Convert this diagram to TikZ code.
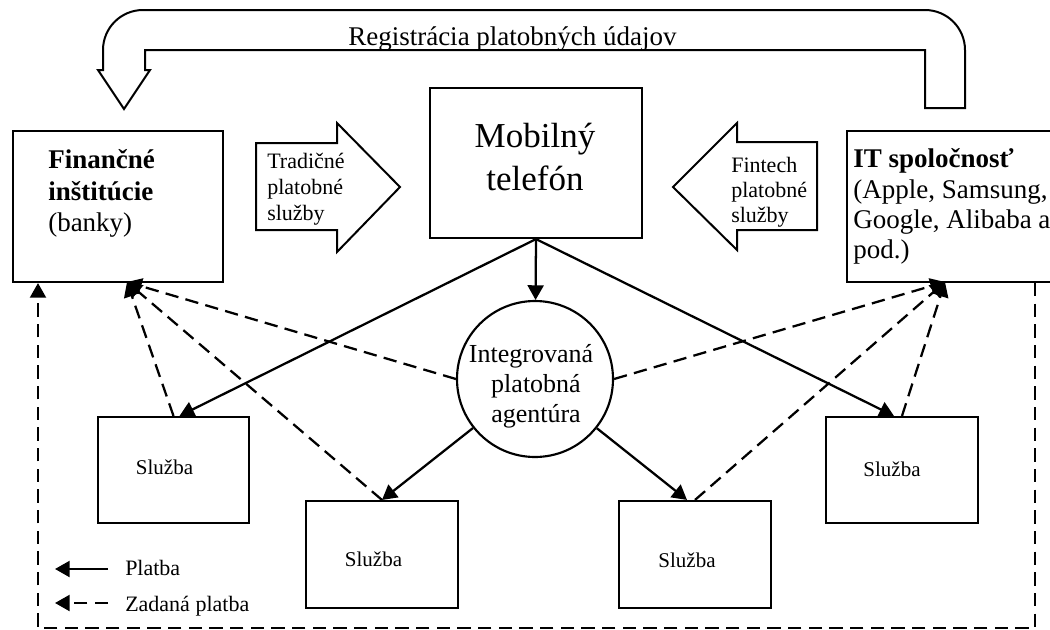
\documentclass[tikz,border=0pt]{standalone}
\usepackage{fontspec}
\setmainfont{Liberation Serif}
\usetikzlibrary{arrows.meta,calc}
\begin{document}
\begin{tikzpicture}[x=0.75pt,y=-0.75pt,
  box/.style={draw,line width=1.6pt,inner sep=0pt},
  pay/.style={line width=1.7pt,-{Triangle[length=11pt,width=12pt]}},
  dpay/.style={pay,dash pattern=on 10pt off 5.5pt},
  shapeline/.style={draw,line width=1.5pt,line join=miter},
  txt/.style={inner sep=0pt,anchor=base west},
  ctxt/.style={inner sep=0pt,anchor=base},
  big/.style={font=\fontsize{20.25}{24}\selectfont},
  mid/.style={font=\fontsize{19.5}{23}\selectfont},
  small/.style={font=\fontsize{16.5}{20}\selectfont},
  svc/.style={font=\fontsize{15.75}{19}\selectfont}]
\useasboundingbox (0,0) rectangle (1050,629);

% main boxes
\node[box,minimum width=157.5pt,minimum height=113.25pt] (fin) at (118,206.5) {};
\node[box,minimum width=159pt,minimum height=112.5pt] (mob) at (536,163) {};
\node[box,minimum width=159.75pt,minimum height=113.25pt] (it) at (953.5,206.5) {};
\node[box,circle,minimum size=117pt] (agent) at (535,379) {};

% service boxes
\node[box,minimum width=113.25pt,minimum height=79.5pt] (s1) at (173.5,470) {};
\node[box,minimum width=114pt,minimum height=80.25pt] (s2) at (382,554.5) {};
\node[box,minimum width=114pt,minimum height=80.25pt] (s3) at (695,554.5) {};
\node[box,minimum width=114pt,minimum height=79.5pt] (s4) at (902,470) {};

% texts of the boxes
\node[txt,big] (fin1) at (48,168) {\bfseries Finančné};
\node[txt,big] (fin2) at (48,200) {\bfseries inštitúcie};
\node[txt,big] (fin3) at (48,231) {(banky)};

\node[ctxt,font=\fontsize{26.25}{30}\selectfont] (mob1) at (535,147) {Mobilný};
\node[ctxt,font=\fontsize{26.25}{30}\selectfont] (mob2) at (535,190) {telefón};

\node[txt,big] (it1) at (853,167) {\bfseries IT spoločnosť};
\node[txt,big] (it2) at (853,198) {(Apple, Samsung,};
\node[txt,big] (it3) at (853,228) {Google, Alibaba a};
\node[txt,big] (it4) at (853,258) {pod.)};

\node[ctxt,mid] (ag1) at (531,362) {Integrovaná};
\node[ctxt,mid] (ag2) at (536,392) {platobná};
\node[ctxt,mid] (ag3) at (536,422) {agentúra};

\node[ctxt,svc] (s1t) at (164.5,474) {Služba};
\node[ctxt,svc] (s2t) at (373.5,566) {Služba};
\node[ctxt,svc] (s3t) at (687,567) {Služba};
\node[ctxt,svc] (s4t) at (892,476) {Služba};

% block arrows towards the phone
\draw[shapeline] (256,143) -- (337,143) -- (337,123) -- (400,187)
  -- (337,252) -- (337,230) -- (256,230) -- cycle;
\node[txt,small] (tr1) at (267,168) {Tradičné};
\node[txt,small] (tr2) at (267,194) {platobné};
\node[txt,small] (tr3) at (267,220) {služby};

\draw[shapeline] (817,142) -- (737,142) -- (737,123) -- (673,187)
  -- (737,250) -- (737,230) -- (817,230) -- cycle;
\node[txt,small] (ft1) at (731,172) {Fintech};
\node[txt,small] (ft2) at (731,197) {platobné};
\node[txt,small] (ft3) at (731,222) {služby};

% bent arrow along the top
\draw[shapeline] (965,108) -- (965,50) arc[start angle=0,end angle=-90,radius=40]
  -- (143,10) arc[start angle=-90,end angle=-180,radius=40]
  -- (103,70) -- (98,70) -- (124,109) -- (150,70) -- (145,70) -- (145,50)
  -- (925,50) -- (925,108) -- cycle;
\node[txt,big] (reg) at (348,45) {Registrácia platobných údajov};

% payment flows
\draw[pay] (mob.south) -- (agent);
\draw[pay] (mob.south) -- ($(s1.north)+(6,0)$);
\draw[pay] (mob.south) -- ($(s4.north)+(-8,0)$);
\draw[pay] (agent) -- (s2.north);
\draw[pay] (agent) -- ($(s3.north)+(-8,0)$);

% ordered payments
\coordinate (finin) at (127,282);
\coordinate (itin) at (945,282);
\draw[dpay] (agent.west) -- (finin);
\draw[dpay] (s1.north) -- (finin);
\draw[dpay] (s2.north) -- (finin);
\draw[dpay] (agent.east) -- (itin);
\draw[dpay] (s3.north) -- (itin);
\draw[dpay] (s4.north) -- (itin);

\coordinate (loopL) at (38,628);
\coordinate (loopR) at (1035,628);
\draw[dpay] (it.south -| loopR) |- (loopL) -- (fin.south -| loopL);

% legend
\coordinate (lg1a) at (108,569);
\coordinate (lg1b) at (55,569);
\coordinate (lg2a) at (108,603);
\coordinate (lg2b) at (55,603);
\draw[pay] (lg1a) -- (lg1b);
\draw[dpay] (lg2a) -- (lg2b);
\node[txt,small] (lgt1) at (125,575) {Platba};
\node[txt,small] (lgt2) at (125,611) {Zadaná platba};
\end{tikzpicture}
\end{document}
